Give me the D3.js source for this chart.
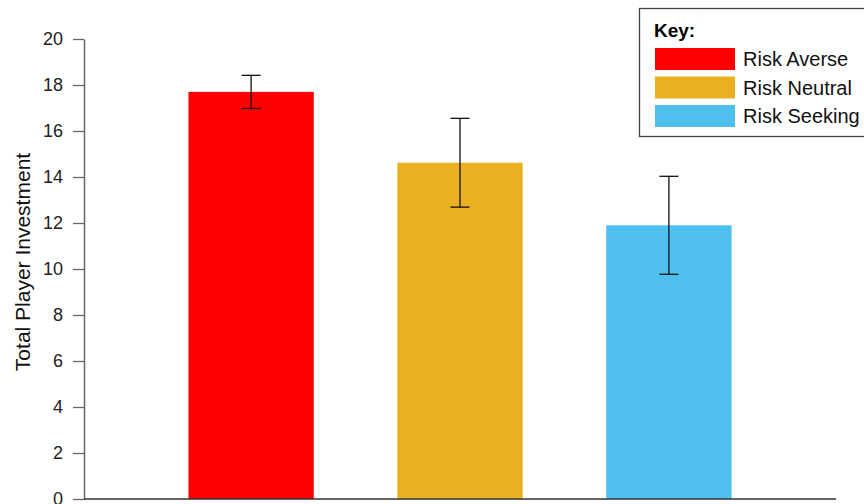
<!DOCTYPE html>
<html>
<head>
<meta charset="utf-8">
<script src="https://cdn.jsdelivr.net/npm/d3@7"></script>
<style>
  body { margin: 0; background: #fff; }
  text { font-family: "Liberation Sans", Arial, sans-serif; }
</style>
</head>
<body>
<script>
let categories = ['Risk Averse', 'Risk Neutral', 'Risk Seeking'];
let means = [17.7, 14.62, 11.9];
let errors = [0.72, 1.93, 2.13];
let colors = ['#ff0000', '#ebaf22', '#4fbfed'];
let yTicks = [0, 2, 4, 6, 8, 10, 12, 14, 16, 18, 20];

let svg = d3.select('body')
  .append('svg')
  .attr('width', 864)
  .attr('height', 504);

let plotLeft = 84, plotRight = 836, plotTop = 39, plotBottom = 499;

let x = d3.scaleBand()
  .domain(categories)
  .range([plotLeft, plotRight])
  .paddingInner(0.4)
  .paddingOuter(0.5);

let y = d3.scaleLinear()
  .domain([0, 20])
  .range([plotBottom, plotTop]);

// bars
svg.selectAll('rect.bar').data(categories)
  .enter().append('rect')
  .attr('class', 'bar')
  .attr('x', d => x(d))
  .attr('y', (d, i) => y(means[i]))
  .attr('width', x.bandwidth())
  .attr('height', (d, i) => y(0) - y(means[i]))
  .attr('fill', (d, i) => colors[i]);

// error bars
let eb = svg.selectAll('g.err').data(categories)
  .enter().append('g')
  .attr('class', 'err')
  .attr('stroke', '#111')
  .attr('stroke-width', 1.3);
let cx = d => x(d) + x.bandwidth() / 2;
eb.append('line')
  .attr('x1', cx).attr('x2', cx)
  .attr('y1', (d, i) => y(means[i] + errors[i]))
  .attr('y2', (d, i) => y(means[i] - errors[i]));
eb.append('line')
  .attr('x1', d => cx(d) - 9.5).attr('x2', d => cx(d) + 9.5)
  .attr('y1', (d, i) => y(means[i] + errors[i]))
  .attr('y2', (d, i) => y(means[i] + errors[i]));
eb.append('line')
  .attr('x1', d => cx(d) - 9.5).attr('x2', d => cx(d) + 9.5)
  .attr('y1', (d, i) => y(means[i] - errors[i]))
  .attr('y2', (d, i) => y(means[i] - errors[i]));

// y axis
let yAxis = svg.append('g')
  .attr('transform', `translate(${plotLeft},0)`)
  .call(d3.axisLeft(y).tickValues(yTicks).tickSize(11).tickPadding(10).tickSizeOuter(0));
yAxis.select('.domain').attr('stroke', '#666').attr('stroke-width', 1.5);
yAxis.selectAll('.tick line').attr('stroke', '#666').attr('stroke-width', 1.3);
yAxis.selectAll('.tick text')
  .attr('font-size', 18)
  .attr('fill', '#222')
  .style('font-family', '"Liberation Sans", Arial, sans-serif');

// x axis line
svg.append('line')
  .attr('x1', plotLeft).attr('x2', plotRight)
  .attr('y1', y(0)).attr('y2', y(0))
  .attr('stroke', '#333')
  .attr('stroke-width', 1.6);

// y label
svg.append('text')
  .attr('transform', 'translate(30,262) rotate(-90)')
  .attr('text-anchor', 'middle')
  .attr('font-size', 21)
  .attr('fill', '#111')
  .text('Total Player Investment');

// legend
let legend = svg.append('g');
legend.append('rect')
  .attr('x', 639.5).attr('y', 8.5)
  .attr('width', 240).attr('height', 128)
  .attr('fill', '#fff')
  .attr('stroke', '#444')
  .attr('stroke-width', 1.3);
legend.append('text')
  .attr('x', 654).attr('y', 37)
  .attr('font-size', 19)
  .attr('font-weight', 'bold')
  .text('Key:');
let items = legend.selectAll('g.item').data(categories)
  .enter().append('g')
  .attr('class', 'item')
  .attr('transform', (d, i) => `translate(655,${48 + i * 28.5})`);
items.append('rect')
  .attr('width', 80).attr('height', 22)
  .attr('fill', (d, i) => colors[i]);
items.append('text')
  .attr('x', 88).attr('y', 18)
  .attr('font-size', 20)
  .attr('fill', '#111')
  .text(d => d);
</script>
</body>
</html>
